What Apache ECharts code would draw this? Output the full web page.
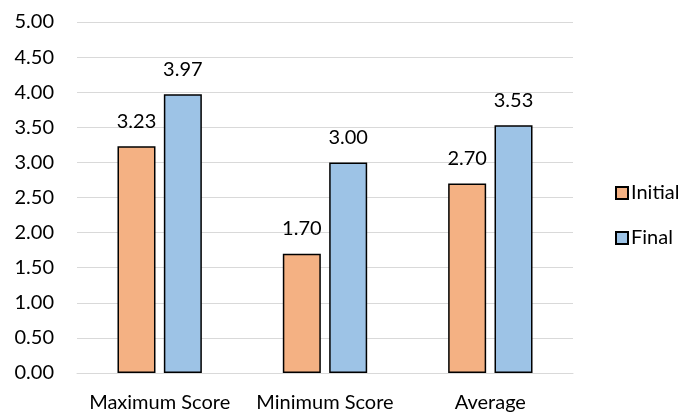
<!DOCTYPE html>
<html><head><meta charset="utf-8">
<script src="https://cdn.jsdelivr.net/npm/echarts@6/dist/echarts.min.js"></script>
<style>html,body{margin:0;padding:0;background:#fff}#c{width:686px;height:413px}</style>
</head><body><div id="c"></div>
<script>
const categories = ["Maximum Score", "Minimum Score", "Average"];
const initialValues = [3.23, 1.70, 2.70];
const finalValues = [3.97, 3.00, 3.53];
const seriesNames = ["Initial", "Final"];
const font = "Lato, 'Open Sans', sans-serif";
const chart = echarts.init(document.getElementById('c'), null, {renderer: 'canvas'});
const lbl = {show: true, position: 'top', distance: 15, color: '#000', fontSize: 20, fontFamily: font, formatter: p => p.value.toFixed(2)};
chart.setOption({
  animation: false,
  grid: {left: 77, right: 113, top: 22, bottom: 40, containLabel: false},
  legend: {
    orient: 'vertical', left: 610, top: 178, itemGap: 25, itemWidth: 12, itemHeight: 12,
    icon: 'rect', textStyle: {fontSize: 20, fontFamily: font, color: '#000', padding: [0,0,0,-2]},
    data: seriesNames
  },
  xAxis: {
    type: 'category', data: categories,
    axisLine: {show: true, lineStyle: {color: '#d9d9d9', width: 1}},
    axisTick: {show: false},
    axisLabel: {color: '#000', fontSize: 20, fontFamily: font, margin: 20, interval: 0}
  },
  yAxis: {
    type: 'value', min: 0, max: 5, interval: 0.5,
    axisLine: {show: false}, axisTick: {show: false},
    splitLine: {lineStyle: {color: '#d9d9d9', width: 1}},
    axisLabel: {color: '#000', fontSize: 20, fontFamily: font, margin: 23, formatter: v => v.toFixed(2)}
  },
  series: [
    {name: seriesNames[0], type: 'bar', data: initialValues, barWidth: 38, barGap: '22%',
     itemStyle: {color: '#F4B183', borderColor: '#000', borderWidth: 1.5}, label: lbl},
    {name: seriesNames[1], type: 'bar', data: finalValues, barWidth: 38,
     itemStyle: {color: '#9DC3E6', borderColor: '#000', borderWidth: 1.5}, label: lbl}
  ]
});
</script></body></html>
